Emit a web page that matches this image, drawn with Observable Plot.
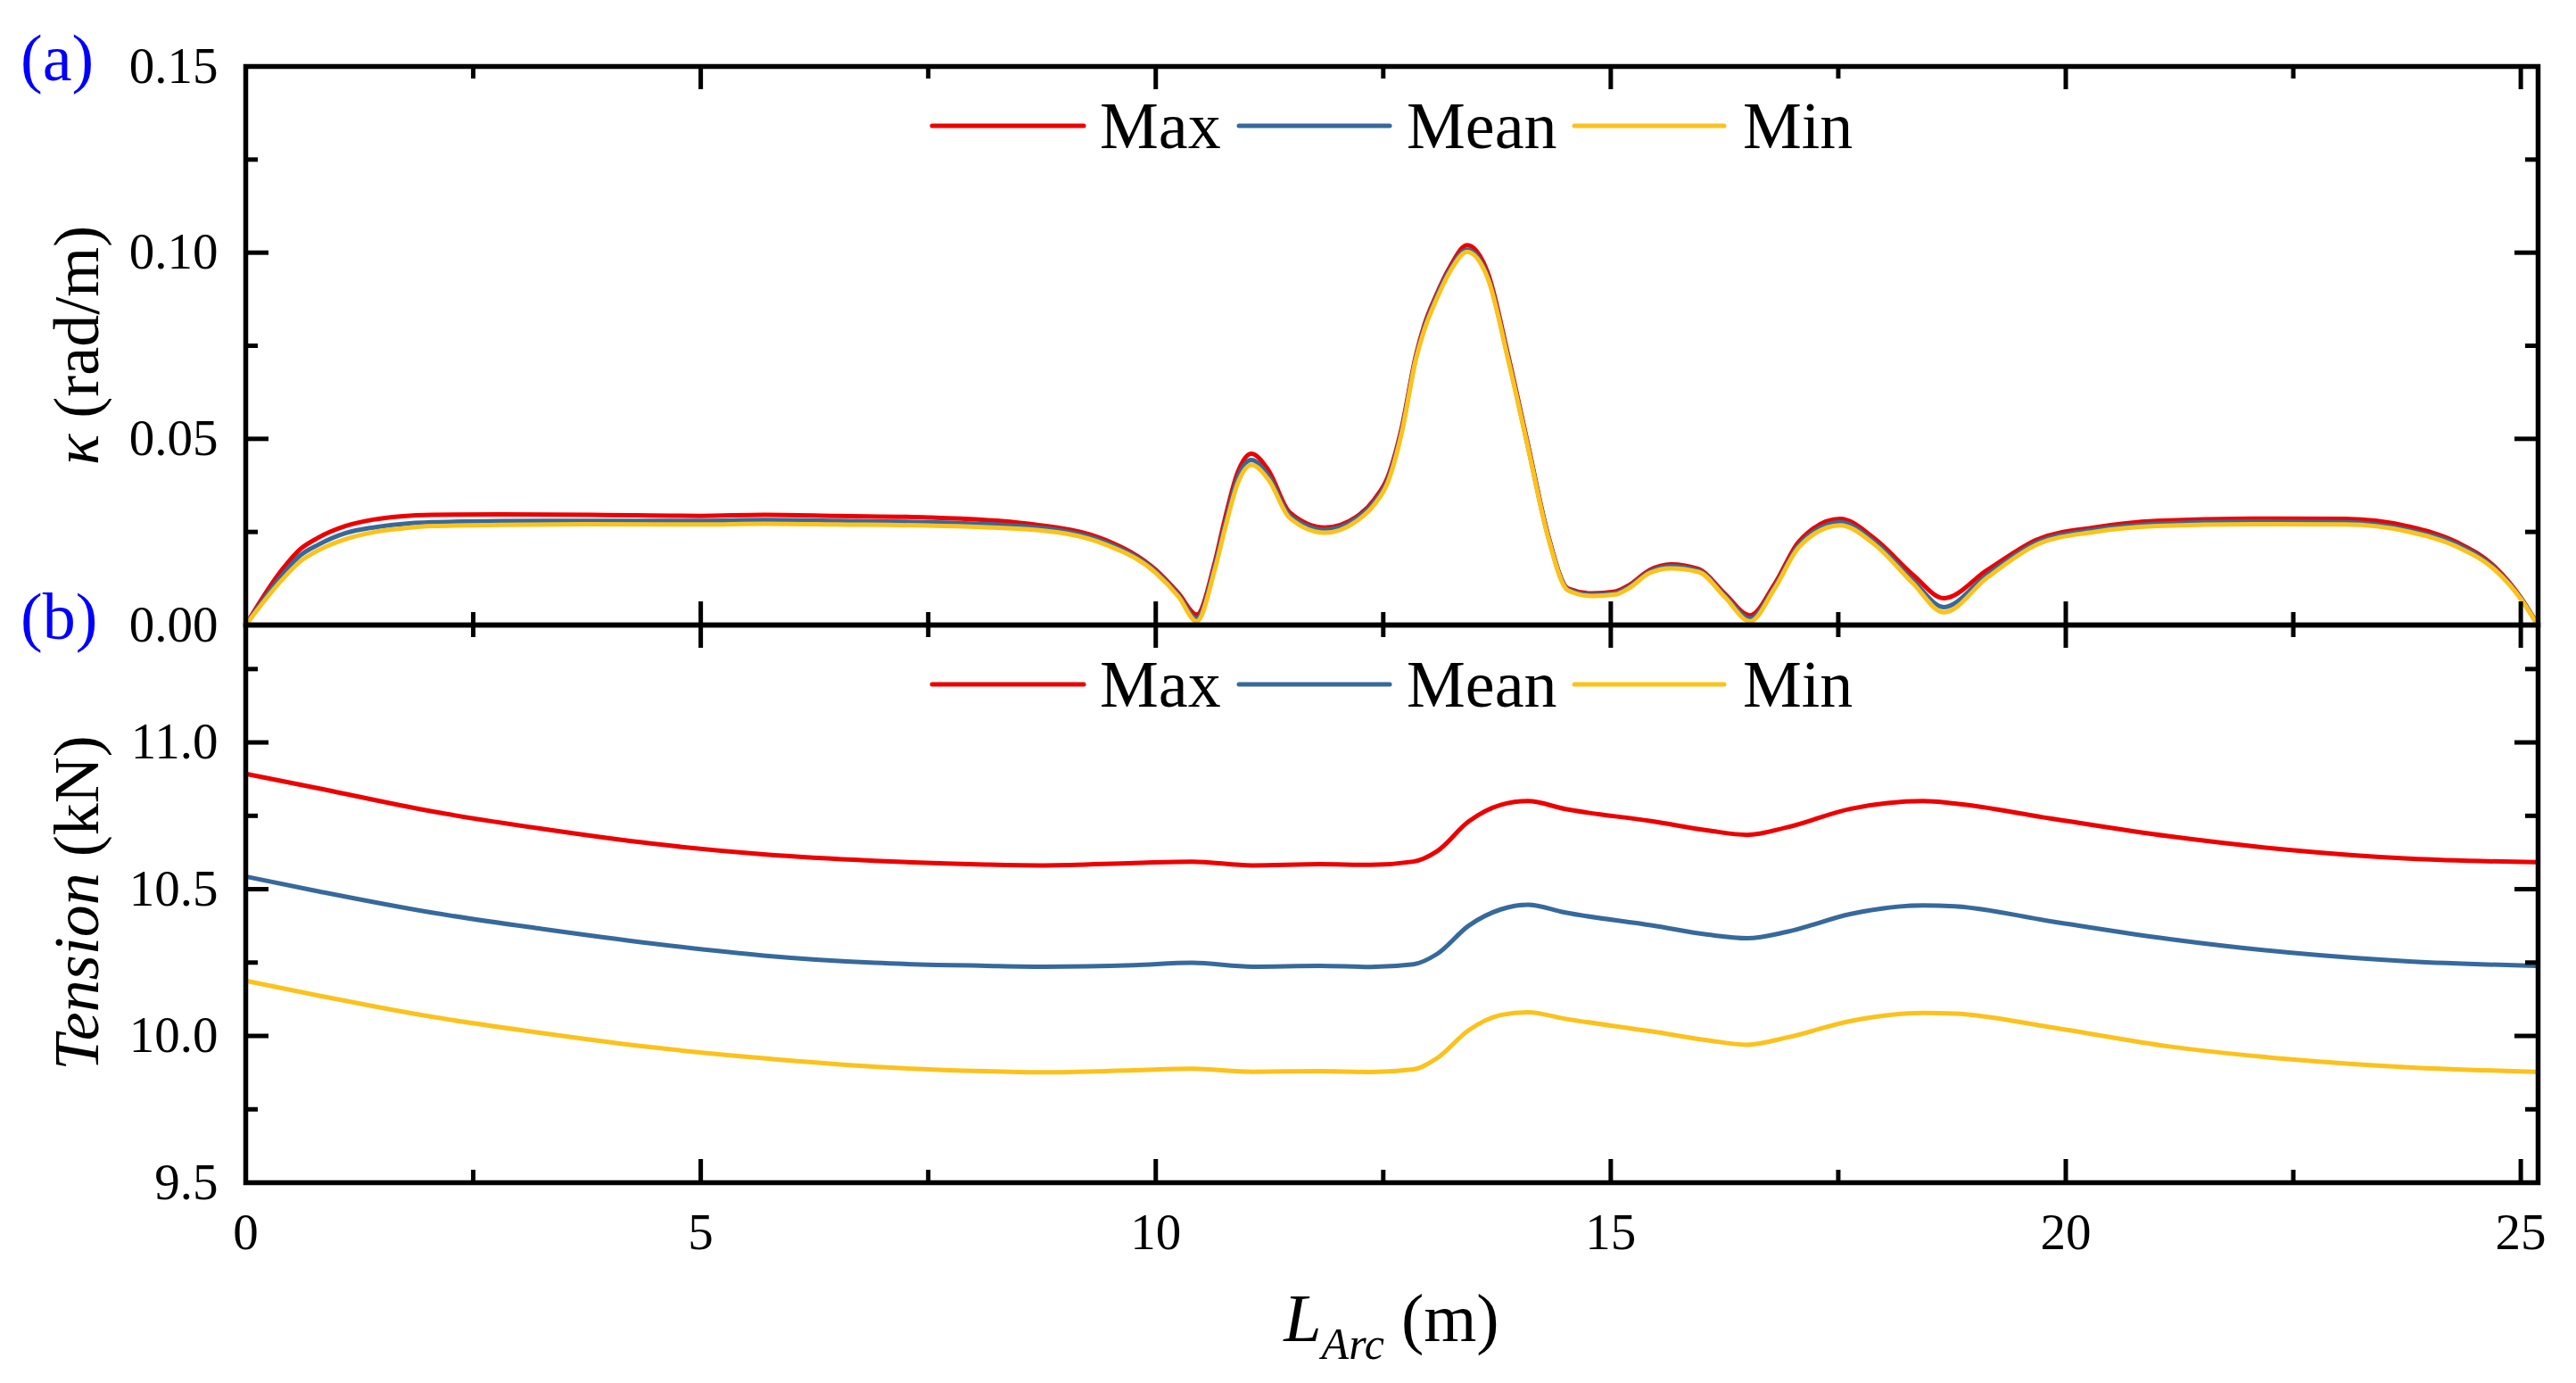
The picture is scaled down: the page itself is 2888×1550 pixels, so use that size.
<!DOCTYPE html>
<html><head><meta charset="utf-8">
<script src="https://cdn.jsdelivr.net/npm/d3@7"></script>
<script src="https://cdn.jsdelivr.net/npm/@observablehq/plot@0.6"></script>
<style>
html,body{margin:0;padding:0;background:#fff;}
#wrap{position:relative;width:2888px;height:1550px;font-family:"Liberation Serif","Times New Roman",serif;}
#wrap > svg{display:block;}
#wrap svg, #wrap svg text, #wrap svg tspan{font-family:"Liberation Serif","Times New Roman",serif !important;}
#wrap > svg.plotpanel text{font-size:57px !important;}
#overlay{position:absolute;left:0;top:0;pointer-events:none;}
</style></head><body><div id="wrap"></div>
<script>
// ---------- data ----------
const seriesNames = ["Max", "Mean", "Min"];
const seriesColors = ["#ee0000", "#36699c", "#fcc21b"];

const kappaX = [0, 0.4, 0.6, 0.8, 1.1, 1.4, 1.7, 2.05, 2.8, 3.8, 5.0,
  5.7, 6.5, 7.5, 8.6, 9.45, 10.0, 10.25, 10.45, 10.65, 10.76,
  10.9, 11.05, 11.24, 11.47, 11.86, 12.2, 12.4, 12.55, 12.7, 12.86,
  12.95, 13.08, 13.24, 13.42, 13.65, 13.87, 14.09, 14.31, 14.53, 14.79, 15.05,
  15.2, 15.43, 15.66, 15.97, 16.25, 16.53, 16.8, 17.07, 17.52, 17.9,
  18.32, 18.66, 19.14, 19.69, 20.31, 21.0, 22.04, 23.07, 23.76, 24.3,
  24.72, 25.0, 25.17];
const kappaMax = [0, 0.0149, 0.0204, 0.0235, 0.0266, 0.0283, 0.0292, 0.0296, 0.0297, 0.0296, 0.0293,
  0.0296, 0.0293, 0.0289, 0.0272, 0.0228, 0.0148, 0.0085, 0.0028, 0.017, 0.0285,
  0.041, 0.046, 0.0415, 0.0303, 0.0262, 0.029, 0.0337, 0.0398, 0.0527, 0.0725,
  0.0805, 0.0885, 0.0965, 0.102, 0.0945, 0.0727, 0.0485, 0.0243, 0.0098, 0.0085, 0.009,
  0.0107, 0.0148, 0.0163, 0.015, 0.0085, 0.0026, 0.011, 0.0225, 0.0285, 0.0232,
  0.0135, 0.0072, 0.0148, 0.023, 0.0262, 0.028, 0.0286, 0.0285, 0.0265, 0.0222,
  0.0155, 0.0074, 0.0008];
const kappaMean = [0, 0.0134, 0.0187, 0.0216, 0.0247, 0.0262, 0.0271, 0.0276, 0.0279, 0.028, 0.028,
  0.0282, 0.028, 0.0276, 0.0264, 0.0222, 0.0144, 0.008, 0.0018, 0.016, 0.027,
  0.0395, 0.0443, 0.040, 0.0295, 0.0256, 0.0285, 0.033, 0.039, 0.052, 0.072,
  0.0798, 0.0879, 0.0958, 0.1008, 0.0935, 0.072, 0.048, 0.024, 0.0096, 0.0082, 0.0086,
  0.0103, 0.0144, 0.0158, 0.0146, 0.008, 0.0018, 0.0103, 0.0216, 0.0276, 0.0223,
  0.012, 0.0048, 0.0136, 0.0223, 0.0256, 0.0272, 0.0278, 0.0276, 0.0256, 0.0216,
  0.0151, 0.0072, 0.0007];
const kappaMin = [0, 0.0122, 0.0171, 0.0201, 0.0231, 0.0249, 0.0259, 0.0266, 0.0269, 0.0271, 0.027,
  0.0272, 0.027, 0.0267, 0.0257, 0.0216, 0.014, 0.0076, 0.001, 0.015, 0.0258,
  0.038, 0.043, 0.039, 0.0288, 0.0248, 0.0278, 0.0323, 0.0383, 0.0513, 0.0715,
  0.0792, 0.0872, 0.0952, 0.1002, 0.093, 0.0715, 0.0477, 0.0237, 0.0093, 0.0078, 0.0082,
  0.0099, 0.014, 0.0152, 0.0142, 0.0076, 0.001, 0.0098, 0.021, 0.0268, 0.0216,
  0.0112, 0.0034, 0.0128, 0.0217, 0.025, 0.0266, 0.0271, 0.027, 0.0251, 0.021,
  0.0147, 0.007, 0.0006];

const tensionX = [0, 0.81, 2.03, 3.25, 4.47, 5.69, 6.91, 8.13, 8.78, 9.76,
  10.4, 11.06, 11.8, 12.36, 12.83, 13.09, 13.44, 13.79, 14.09, 14.49,
  15.46, 16.07, 16.5, 16.94, 17.64, 18.43, 18.78, 19.83, 21.14, 22.45,
  23.77, 25.17];
const tensionMax = [10.893, 10.843, 10.766, 10.706, 10.655, 10.619, 10.597, 10.584, 10.581, 10.589,
  10.594, 10.581, 10.585, 10.583, 10.594, 10.629, 10.731, 10.787, 10.800, 10.774,
  10.731, 10.700, 10.685, 10.711, 10.774, 10.800, 10.792, 10.741, 10.680, 10.634,
  10.604, 10.592];
const tensionMean = [10.543, 10.492, 10.421, 10.365, 10.315, 10.274, 10.249, 10.239, 10.236, 10.241,
  10.249, 10.236, 10.239, 10.235, 10.244, 10.279, 10.376, 10.431, 10.447, 10.421,
  10.376, 10.345, 10.333, 10.355, 10.416, 10.445, 10.442, 10.391, 10.330, 10.284,
  10.254, 10.239];
const tensionMin = [10.188, 10.137, 10.066, 10.010, 9.961, 9.924, 9.895, 9.880, 9.876, 9.883,
  9.888, 9.878, 9.880, 9.877, 9.886, 9.924, 10.020, 10.071, 10.081, 10.059,
  10.015, 9.985, 9.970, 9.995, 10.051, 10.078, 10.076, 10.030, 9.964, 9.921,
  9.893, 9.878];

const xDomain = [0, 25.19];
const xTicks = [0, 5, 10, 15, 20, 25];
const xMinorTicks = [2.5, 7.5, 12.5, 17.5, 22.5];
const kappaTicks = [0, 0.05, 0.10, 0.15];
const kappaMinorTicks = [0.025, 0.075, 0.125];
const tensionTicks = [9.5, 10.0, 10.5, 11.0];
const tensionMinorTicks = [9.75, 10.25, 10.75, 11.25];

// ---------- build tables ----------
function longRows(xs, cols) {
  const rows = [];
  cols.forEach((vals, k) => vals.forEach((v, i) => rows.push({x: xs[i], v, s: seriesNames[k]})));
  return rows;
}
const kappaRows = longRows(kappaX, [kappaMax, kappaMean, kappaMin]);
const tensionRows = longRows(tensionX, [tensionMax, tensionMean, tensionMin]);

// ---------- layout ----------
const W = 2888, ML = 275, MR = 43;
const PW = W - ML - MR;
const MAJ = 26, MIN = 14, AXW = 5;
const FONT = '"Liberation Serif", "Times New Roman", serif';

function panel({rows, yDomain, yTicks, yMinor, yFmt, height, marginTop, marginBottom, showX}) {
  const PH = height - marginTop - marginBottom;
  const tickStyle = {stroke: "#000", strokeWidth: AXW};
  const svg = Plot.plot({
    width: W, height, marginLeft: ML, marginRight: MR, marginTop, marginBottom,
    style: {fontFamily: FONT, fontSize: "57px", color: "#000", background: "transparent", overflow: "visible"},
    x: {domain: xDomain, ticks: xTicks, tickSize: 0, tickPadding: 34, tickFormat: d => String(d), label: null, axis: showX ? "bottom" : null},
    y: {domain: yDomain, ticks: yTicks, tickSize: 0, tickPadding: 31, tickFormat: yFmt, label: null},
    color: {domain: seriesNames, range: seriesColors},
    marks: [
      Plot.line(rows, {x: "x", y: "v", z: "s", stroke: "s", strokeWidth: 5, curve: "monotone-x"}),
      // inward ticks: bottom, top
      Plot.ruleX(xTicks, {x: d => d, insetTop: PH - MAJ, ...tickStyle}),
      Plot.ruleX(xMinorTicks, {x: d => d, insetTop: PH - MIN, ...tickStyle}),
      Plot.ruleX(xTicks, {x: d => d, insetBottom: PH - MAJ, ...tickStyle}),
      Plot.ruleX(xMinorTicks, {x: d => d, insetBottom: PH - MIN, ...tickStyle}),
      // inward ticks: left, right
      Plot.ruleY(yTicks, {y: d => d, insetRight: PW - MAJ, ...tickStyle}),
      Plot.ruleY(yMinor, {y: d => d, insetRight: PW - MIN, ...tickStyle}),
      Plot.ruleY(yTicks, {y: d => d, insetLeft: PW - MAJ, ...tickStyle}),
      Plot.ruleY(yMinor, {y: d => d, insetLeft: PW - MIN, ...tickStyle}),
      Plot.frame({stroke: "#000", strokeWidth: 5.5})
    ]
  });
  svg.classList.add("plotpanel");
  svg.setAttribute("font-family", FONT);
  svg.setAttribute("font-size", "57");
  return svg;
}

const wrap = document.getElementById("wrap");
wrap.appendChild(panel({rows: kappaRows, yDomain: [0, 0.15], yTicks: kappaTicks, yMinor: kappaMinorTicks,
  yFmt: d3.format(".2f"), height: 700, marginTop: 74, marginBottom: 0, showX: false}));
wrap.appendChild(panel({rows: tensionRows, yDomain: [9.5, 11.4], yTicks: tensionTicks, yMinor: tensionMinorTicks,
  yFmt: d3.format(".1f"), height: 850, marginTop: 0, marginBottom: 225, showX: true}));

// ---------- labels & legends ----------
const ov = d3.select(wrap).append("svg").attr("id", "overlay")
  .attr("width", W).attr("height", 1550)
  .style("font-family", FONT);

ov.append("text").attr("x", 23).attr("y", 90).attr("font-size", 74).attr("fill", "#0000ff").text("(a)");
ov.append("text").attr("x", 23).attr("y", 716).attr("font-size", 74).attr("fill", "#0000ff").text("(b)");

const ya = ov.append("text").attr("transform", "translate(110,387) rotate(-90)")
  .attr("text-anchor", "middle").attr("font-size", 72);
ya.append("tspan").attr("font-style", "italic").text("κ");
ya.append("tspan").text(" (rad/m)");

const yb = ov.append("text").attr("transform", "translate(110,1012) rotate(-90)")
  .attr("text-anchor", "middle").attr("font-size", 72);
yb.append("tspan").attr("font-style", "italic").text("Tension");
yb.append("tspan").text(" (kN)");

const xl = ov.append("text").attr("x", 1560).attr("y", 1503).attr("text-anchor", "middle").attr("font-size", 76);
xl.append("tspan").attr("font-style", "italic").text("L");
xl.append("tspan").attr("font-style", "italic").attr("font-size", 50).attr("dy", 20).text("Arc");
xl.append("tspan").attr("dy", -20).text(" (m)");

const legendItems = [
  {x1: 1045, x2: 1215, tx: 1233},
  {x1: 1389, x2: 1558, tx: 1577},
  {x1: 1765, x2: 1933, tx: 1954}
];
[{ly: 141, ty: 166}, {ly: 767, ty: 792}].forEach(({ly, ty}) => {
  legendItems.forEach((it, k) => {
    ov.append("line").attr("x1", it.x1).attr("x2", it.x2).attr("y1", ly).attr("y2", ly)
      .attr("stroke", seriesColors[k]).attr("stroke-width", 5).attr("stroke-linecap", "round");
    ov.append("text").attr("x", it.tx).attr("y", ty).attr("font-size", 74).text(seriesNames[k]);
  });
});
</script></body></html>
